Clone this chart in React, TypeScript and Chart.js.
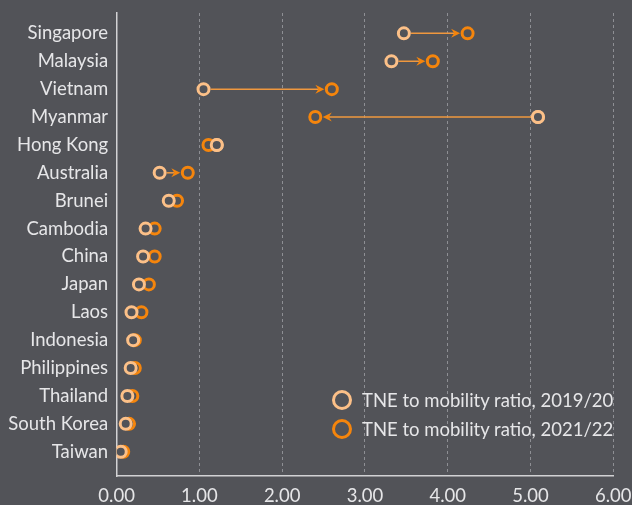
import { useEffect, useRef } from 'react';
import { Chart, registerables } from 'chart.js';

Chart.register(...registerables);

const countries = [
  'Singapore', 'Malaysia', 'Vietnam', 'Myanmar', 'Hong Kong', 'Australia', 'Brunei', 'Cambodia',
  'China', 'Japan', 'Laos', 'Indonesia', 'Philippines', 'Thailand', 'South Korea', 'Taiwan',
];
const ratio201920 = [3.47, 3.32, 1.05, 5.09, 1.21, 0.52, 0.63, 0.35, 0.32, 0.27, 0.18, 0.20, 0.17, 0.13, 0.11, 0.05];
const ratio202122 = [4.24, 3.82, 2.60, 2.40, 1.11, 0.86, 0.73, 0.46, 0.46, 0.39, 0.30, 0.22, 0.22, 0.19, 0.15, 0.08];
const xTickValues = [0, 1, 2, 3, 4, 5, 6];
const legendLabels = ['TNE to mobility ratio, 2019/20', 'TNE to mobility ratio, 2021/22'];

const BG = '#525358';
const LIGHT = '#fcc088';
const DARK = '#f5850c';
const ARROW_LINE = '#f0983e';
const TEXT = '#e6e6e8';
const FONT = 'Lato, "Noto Sans", sans-serif';
const FONT_SIZE = 18.5;
const FONT_WEIGHT = 400;

const arrowPlugin = {
  id: 'arrows',
  beforeDatasetsDraw(chart: any) {
    const { ctx, scales } = chart;
    const xs = scales.x;
    const ys = scales.y;
    ctx.save();
    for (let i = 0; i < countries.length; i++) {
      const x1 = xs.getPixelForValue(ratio201920[i]);
      const x2 = xs.getPixelForValue(ratio202122[i]);
      const y = ys.getPixelForValue(i);
      const d = x2 - x1;
      if (Math.abs(d) < 22) continue;
      const dir = Math.sign(d);
      const r = 7;
      const sx = x1 + dir * r;
      const ex = x2 - dir * (r + 0.5);
      const headLen = 9;
      const notch = 6;
      ctx.strokeStyle = ARROW_LINE;
      ctx.lineWidth = 1.5;
      ctx.beginPath();
      ctx.moveTo(sx, y);
      ctx.lineTo(ex - dir * notch, y);
      ctx.stroke();
      ctx.fillStyle = DARK;
      ctx.beginPath();
      ctx.moveTo(ex, y);
      ctx.lineTo(ex - dir * headLen, y - 4.5);
      ctx.lineTo(ex - dir * notch, y);
      ctx.lineTo(ex - dir * headLen, y + 4.5);
      ctx.closePath();
      ctx.fill();
    }
    ctx.restore();
  },
};

export default function App() {
  const canvasRef = useRef<HTMLCanvasElement | null>(null);

  useEffect(() => {
    if (!canvasRef.current) return;
    const toPoints = (arr: number[]) => arr.map((v, i) => ({ x: v, y: i }));
    const overlay = ratio201920.map((v, i) => (v > ratio202122[i] ? { x: v, y: i } : { x: NaN, y: i }));
    const pointStyle = (color: string) => ({
      showLine: false,
      pointStyle: 'circle',
      pointRadius: 5.5,
      pointHoverRadius: 5.5,
      pointBorderWidth: 3,
      borderColor: color,
      backgroundColor: BG,
      pointBackgroundColor: BG,
      pointBorderColor: color,
    });
    const chart = new Chart(canvasRef.current, {
      type: 'scatter',
      data: {
        datasets: [
          { label: legendLabels[0], data: toPoints(ratio201920), ...pointStyle(LIGHT) },
          { label: legendLabels[1], data: toPoints(ratio202122), ...pointStyle(DARK) },
          { label: 'overlay', data: overlay, ...pointStyle(LIGHT) },
        ],
      },
      options: {
        animation: false,
        responsive: true,
        maintainAspectRatio: false,
        layout: { padding: { top: 13, right: 18.7, left: 0, bottom: 0 } },
        plugins: {
          legend: { display: false },
          tooltip: { enabled: false },
        },
        scales: {
          x: {
            type: 'linear',
            min: 0,
            max: 6,
            afterBuildTicks: (scale: any) => {
              scale.ticks = xTickValues.map((v) => ({ value: v }));
            },
            afterFit: (scale: any) => {
              scale.height = 29;
              scale.paddingLeft = 0;
              scale.paddingRight = 0;
            },
            ticks: {
              color: TEXT,
              font: { family: FONT, size: FONT_SIZE, weight: FONT_WEIGHT },
              padding: 9,
              maxRotation: 0,
              callback: (v: any) => Number(v).toFixed(2),
            },
            grid: {
              drawTicks: false,
              lineWidth: 1,
              color: (c: any) => (c.tick && c.tick.value === 0 ? 'rgba(0,0,0,0)' : '#8e8f94'),
            },
            border: { display: true, color: '#d2d2d4', width: 1.5, dash: [3, 3] },
          },
          y: {
            type: 'linear',
            reverse: true,
            min: -0.73,
            max: 15.87,
            afterBuildTicks: (scale: any) => {
              scale.ticks = countries.map((_, i) => ({ value: i }));
            },
            afterFit: (scale: any) => {
              scale.width = 116.6;
              scale.paddingTop = 0;
              scale.paddingBottom = 0;
            },
            ticks: {
              color: TEXT,
              font: { family: FONT, size: FONT_SIZE, weight: FONT_WEIGHT },
              padding: 8.5,
              autoSkip: false,
              callback: (v: any) => countries[v] ?? '',
            },
            grid: { display: false, drawTicks: false },
            border: { display: true, color: '#d2d2d4', width: 1.5 },
          },
        },
      },
      plugins: [arrowPlugin],
    } as any);
    return () => chart.destroy();
  }, []);

  const legendColors = [LIGHT, DARK];
  const legendTops = [400, 429];

  return (
    <div style={{ position: 'fixed', left: 0, top: 0, width: 632, height: 505, background: BG }}>
      <canvas ref={canvasRef} />
      {legendLabels.map((label, i) => (
        <div
          key={label}
          style={{
            position: 'absolute',
            left: 332,
            top: legendTops[i] - 10,
            height: 20,
            display: 'flex',
            alignItems: 'center',
            fontFamily: FONT,
            fontSize: FONT_SIZE,
            fontWeight: FONT_WEIGHT,
            color: TEXT,
            whiteSpace: 'nowrap',
          }}
        >
          <span
            style={{
              display: 'inline-block',
              flex: '0 0 auto',
              width: 20,
              height: 20,
              boxSizing: 'border-box',
              border: `3.5px solid ${legendColors[i]}`,
              borderRadius: '50%',
              marginRight: 10,
            }}
          />
          <span style={{ lineHeight: '20px' }}>{label}</span>
        </div>
      ))}
    </div>
  );
}
